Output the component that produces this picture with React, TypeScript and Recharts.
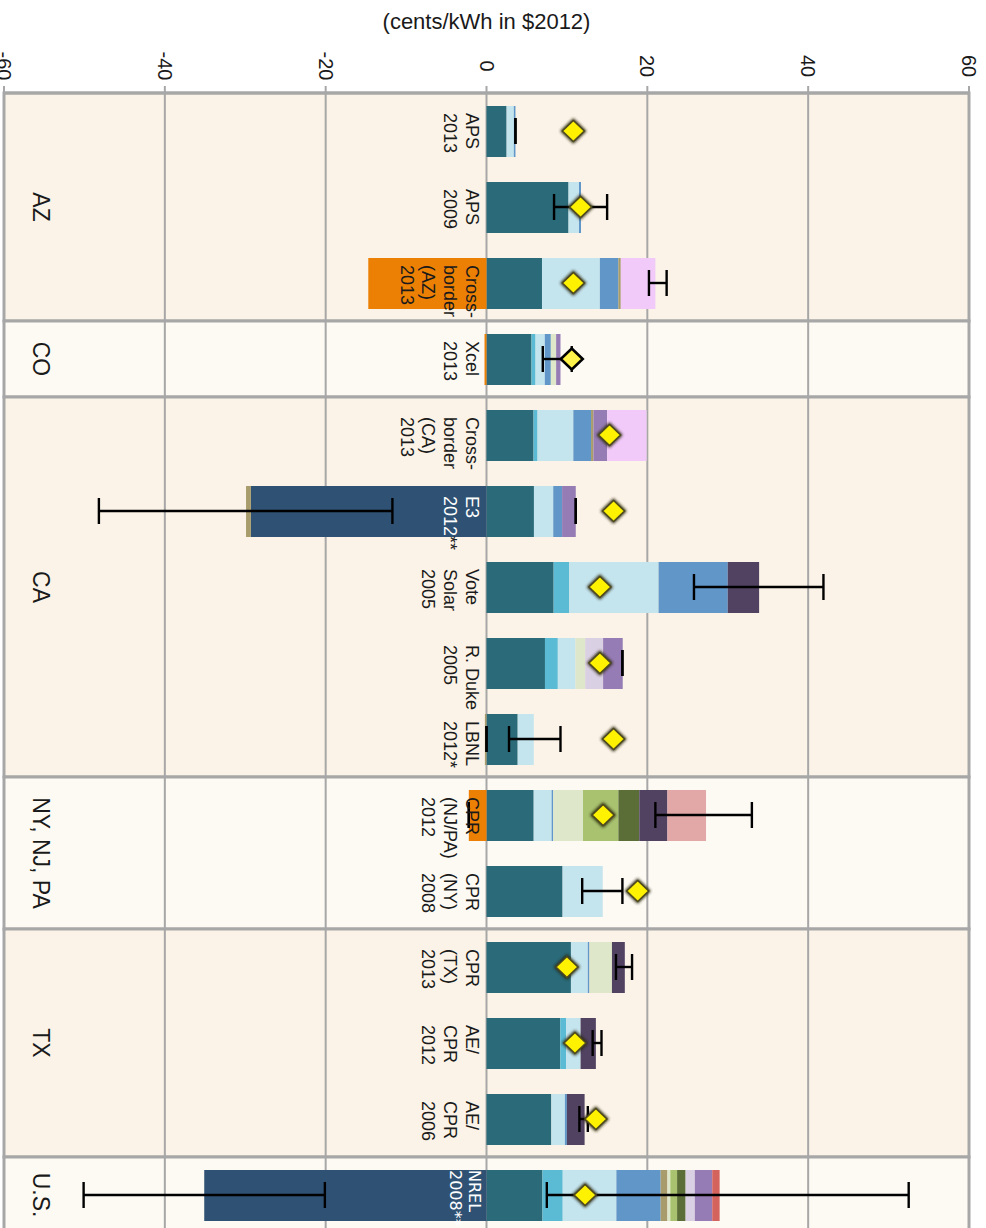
import React from 'react';
import {
  ComposedChart,
  Bar,
  XAxis,
  YAxis,
  Line,
  ErrorBar,
  ReferenceArea,
  ReferenceLine,
  LabelList,
} from 'recharts';

// ---------------- DATA ----------------
const categories = [
  'APS 2013', 'APS 2009', 'Cross-border (AZ) 2013', 'Xcel 2013', 'Cross-border (CA) 2013',
  'E3 2012**', 'Vote Solar 2005', 'R. Duke 2005', 'LBNL 2012*', 'CPR (NJ/PA) 2012',
  'CPR (NY) 2008', 'CPR (TX) 2013', 'AE/ CPR 2012', 'AE/ CPR 2006', 'NREL 2008**',
];
const categoryLines = [
  ['APS', '2013'], ['APS', '2009'], ['Cross-', 'border', '(AZ)', '2013'], ['Xcel', '2013'],
  ['Cross-', 'border', '(CA)', '2013'], ['E3', '2012**'], ['Vote', 'Solar', '2005'],
  ['R. Duke', '2005'], ['LBNL', '2012*'], ['CPR', '(NJ/PA)', '2012'], ['CPR', '(NY)', '2008'],
  ['CPR', '(TX)', '2013'], ['AE/', 'CPR', '2012'], ['AE/', 'CPR', '2006'], ['NREL', '2008**'],
];
const groups = ['AZ', 'CO', 'CA', 'NY, NJ, PA', 'TX', 'U.S.'];
const groupFirst = ['APS 2013', 'Xcel 2013', 'Cross-border (CA) 2013', 'CPR (NJ/PA) 2012', 'CPR (TX) 2013', 'NREL 2008**'];
const groupLast = ['Cross-border (AZ) 2013', 'Xcel 2013', 'LBNL 2012*', 'CPR (NY) 2008', 'AE/ CPR 2006', 'NREL 2008**'];
const xTicks = [-60, -40, -20, 0, 20, 40, 60];

// positive segments (cents/kWh), stacked in this order
const energy =      [2.5, 10.2, 6.9, 5.6, 5.85, 5.9, 8.35, 7.27, 3.88, 5.87, 9.46, 10.5, 9.17, 8.06, 6.96];
const losses =      [0, 0, 0, 0.5, 0.5, 0, 1.95, 1.6, 0, 0, 0, 0, 0.73, 0, 2.52];
const genCapacity = [0.9, 1.3, 7.2, 1.15, 4.45, 2.4, 11.1, 2.2, 2.0, 2.23, 5.0, 2.1, 1.8, 1.69, 6.67];
const tdCapacity =  [0.2, 0.25, 2.3, 0.75, 2.2, 1.1, 8.6, 0, 0, 0.2, 0, 0.2, 0, 0.25, 5.51];
const ancillary =   [0, 0, 0.3, 0, 0.3, 0, 0, 0, 0, 0, 0, 0, 0, 0, 0.84];
const fuelHedge =   [0, 0, 0, 0.66, 0, 0, 0, 1.2, 0, 3.7, 0, 2.8, 0, 0, 0.36];
const marketPrice = [0, 0, 0, 0, 0, 0, 0, 0, 0, 4.4, 0, 0, 0, 0, 0.84];
const security =    [0, 0, 0, 0, 0, 0, 0, 0, 0, 2.6, 0, 0, 0, 0, 1.06];
const carbon =      [0, 0, 0, 0, 0, 0, 3.9, 0, 0, 3.5, 0, 1.6, 1.9, 2.2, 0];
const criteria =    [0, 0, 0, 0, 0, 0, 0, 2.23, 0, 0, 0, 0, 0, 0, 1.14];
const envOther =    [0, 0, 0, 0.54, 1.7, 1.7, 0, 2.44, 0, 0, 0, 0, 0, 0, 2.17];
const social =      [0, 0, 0, 0, 0, 0, 0, 0, 0, 4.8, 0, 0, 0, 0, 0];
const crossBorder = [0, 0, 4.3, 0, 4.9, 0, 0, 0, 0, 0, 0, 0, 0, 0, 0];
const otherValue =  [0, 0, 0, 0, 0, 0, 0, 0, 0, 0, 0, 0, 0, 0, 0.92];
// negative segments
const integrationCost = [0, 0, -14.7, -0.25, 0, 0, 0, 0, 0, -2.2, 0, 0, 0, 0, 0];
const penetrationCost = [0, 0, 0, 0, 0, -29.3, 0, 0, 0, 0, 0, 0, 0, 0, -35.1];
const otherCost =       [0, 0, 0, 0, 0, -0.6, 0, 0, -0.2, 0, 0, 0, 0, 0, 0];

// yellow diamonds
const diamond = [10.8, 11.7, 10.8, 10.6, 15.3, 15.8, 14.1, 14.1, 15.8, 14.5, 18.8, 10.0, 11.0, 13.6, 12.26];
// error ranges [low, high]
const errA: (number[] | null)[] = [
  [3.6, 3.6], [8.4, 15.0], [20.2, 22.4], [7.0, 10.6], null, [11.1, 11.1], [25.8, 41.9], [16.9, 16.9],
  [2.8, 9.2], [21.0, 33.0], [11.9, 16.9], [16.1, 18.1], [13.2, 14.3], [11.55, 12.6], [7.5, 52.5],
];
const errB: (number[] | null)[] = [
  null, null, null, null, null, [-48.2, -11.7], null, null, [0, 0], [-2.2, -2.2], null, null, null, null, [-50.1, -20.1],
];

const series = [
  { key: 'energy', values: energy, color: '#2A6A79' },
  { key: 'losses', values: losses, color: '#5CBBD4' },
  { key: 'genCapacity', values: genCapacity, color: '#C4E4EE' },
  { key: 'tdCapacity', values: tdCapacity, color: '#6096C8' },
  { key: 'ancillary', values: ancillary, color: '#A89B6C' },
  { key: 'fuelHedge', values: fuelHedge, color: '#DFE7CA' },
  { key: 'marketPrice', values: marketPrice, color: '#A8C26F' },
  { key: 'security', values: security, color: '#5B6E37' },
  { key: 'carbon', values: carbon, color: '#524262' },
  { key: 'criteria', values: criteria, color: '#DAD0E3' },
  { key: 'envOther', values: envOther, color: '#967CB4' },
  { key: 'social', values: social, color: '#E2A8A7' },
  { key: 'crossBorder', values: crossBorder, color: '#F1CAFA' },
  { key: 'otherValue', values: otherValue, color: '#D4625D' },
  { key: 'integrationCost', values: integrationCost, color: '#EC8005' },
  { key: 'penetrationCost', values: penetrationCost, color: '#2F5274' },
  { key: 'otherCost', values: otherCost, color: '#A89B6C' },
];

const rows = categories.map((name, i) => {
  const r: any = { name, diamond: diamond[i] };
  series.forEach((s) => { r[s.key] = s.values[i]; });
  const a = errA[i];
  const b = errB[i];
  r.aLo = a ? a[0] : null;
  r.aErr = a ? [0, a[1] - a[0]] : null;
  r.bLo = b ? b[0] : null;
  r.bErr = b ? [0, b[1] - b[0]] : null;
  return r;
});

// ---------------- STYLE ----------------
const FONT = '"Liberation Sans", Arial, Helvetica, sans-serif';
const BAND_A = '#FBF3E7';
const BAND_B = '#FDFAF4';
const GRID = '#A7A7A7';

const AxisTick = (p: any) => (
  <text
    transform={`translate(${p.x},66) rotate(90)`}
    textAnchor="middle"
    dy="0.35em"
    fontFamily={FONT}
    fontSize={20}
    fill="#1a1a1a"
  >
    {p.payload.value}
  </text>
);

const CatLabel = (p: any) => {
  const idx = categories.indexOf(p.value);
  if (idx < 0 || p.x == null) return null;
  const lines = categoryLines[idx];
  const isE3 = p.value === 'E3 2012**';
  const isNrel = p.value === 'NREL 2008**';
  const x0 = p.x;
  const y0 = p.y + (isE3 ? 10 : isNrel ? 0 : 7);
  const fs = isNrel ? 16 : 18;
  const step = isNrel ? 19 : 21.6;
  const first = isNrel ? 18 : 21;
  return (
    <text
      transform={`translate(${x0},${y0}) rotate(90)`}
      fontFamily={isNrel ? '"DejaVu Sans", sans-serif' : FONT}
      fontSize={fs}
      fill={isE3 || isNrel ? '#ffffff' : '#1a1a1a'}
      textAnchor="start"
    >
      {lines.map((ln, i) => {
        if (isE3 && ln.endsWith('**')) {
          return (
            <tspan key={i} x={0} y={first + i * step}>
              {ln.slice(0, -2)}
              <tspan fill="#222">**</tspan>
            </tspan>
          );
        }
        return (
          <tspan key={i} x={0} y={first + i * step}>
            {ln}
          </tspan>
        );
      })}
    </text>
  );
};

const GroupLabel = (p: any) => {
  const vb = p.viewBox;
  if (!vb) return null;
  const cx = vb.x + 37;
  const cy = vb.y + vb.height / 2;
  return (
    <text
      transform={`translate(${cx},${cy}) rotate(90)`}
      textAnchor="middle"
      dy={8.5}
      fontFamily={FONT}
      fontSize={23}
      fill="#1a1a1a"
    >
      {p.text}
    </text>
  );
};

const Diamond = (p: any) => {
  const { cx, cy, payload } = p;
  if (cx == null || cy == null || payload == null || payload.diamond == null) return null;
  const w = 11;
  const h = 10.5;
  const pts = `${cx},${cy - h} ${cx + w},${cy} ${cx},${cy + h} ${cx - w},${cy}`;
  if (payload.name === 'Xcel 2013') {
    return (
      <g>
        <polygon points={pts} fill="#FFF24A" stroke="#000" strokeWidth={2.6} strokeLinejoin="miter" />
      </g>
    );
  }
  const e = 2.2;
  const pts2 = `${cx},${cy - h - e} ${cx + w + e},${cy} ${cx},${cy + h + e} ${cx - w - e},${cy}`;
  return (
    <g>
      <defs>
        <filter id="dglow" x="-60%" y="-60%" width="220%" height="220%">
          <feGaussianBlur stdDeviation="1.8" />
        </filter>
      </defs>
      <polygon points={pts2} fill="#26240c" opacity={0.95} filter="url(#dglow)" />
      <polygon points={pts} fill="#FFF200" stroke="#4f4b1c" strokeWidth={1.6} />
    </g>
  );
};

export default function App() {
  return (
    <div style={{ position: 'absolute', left: 0, top: 0, width: 986, height: 1240, background: '#ffffff' }}>
      <div
        style={{
          position: 'absolute',
          left: 0,
          top: 9,
          width: 973,
          textAlign: 'center',
          fontFamily: FONT,
          fontSize: 22,
          color: '#1a1a1a',
          lineHeight: '26px',
        }}
      >
        (cents/kWh in $2012)
      </div>
      <ComposedChart
        width={986}
        height={1240}
        data={rows}
        layout="vertical"
        stackOffset="sign"
        margin={{ top: 0, right: 17, bottom: 7, left: 4 }}
        barSize={51}
        style={{ position: 'absolute', left: 0, top: 0 }}
      >
        <XAxis
          type="number"
          orientation="top"
          domain={[-60, 60]}
          ticks={xTicks}
          allowDataOverflow
          height={93}
          axisLine={{ stroke: GRID, strokeWidth: 3 }}
          tickLine={{ stroke: GRID, strokeWidth: 2 }}
          tickSize={7}
          tick={(props: any) => <AxisTick {...props} />}
          interval={0}
        />
        <YAxis type="category" dataKey="name" hide />
        {groups.map((g, i) => (
          <ReferenceArea
            key={g}
            x1={-60}
            x2={60}
            y1={groupFirst[i]}
            y2={groupLast[i]}
            fill={i % 2 === 0 ? BAND_A : BAND_B}
            fillOpacity={1}
            stroke={GRID}
            strokeWidth={3}
            ifOverflow="visible"
            zIndex={10}
            label={<GroupLabel text={g} />}
          />
        ))}
        {[-40, -20, 0, 20, 40].map((v) => (
          <ReferenceLine key={v} x={v} stroke={GRID} strokeWidth={2} zIndex={20} />
        ))}
        {series.map((s, i) => (
          <Bar
            key={s.key}
            dataKey={s.key}
            stackId="s"
            fill={s.color}
            isAnimationActive={false}
            zIndex={300}
          >
            {i === 0 ? <LabelList dataKey="name" content={(p: any) => <CatLabel {...p} />} /> : null}
          </Bar>
        ))}
        <Line
          dataKey="aLo"
          stroke="none"
          dot={false}
          activeDot={false}
          isAnimationActive={false}
          legendType="none"
          zIndex={400}
        >
          <ErrorBar dataKey="aErr" direction="x" width={13} stroke="#000" strokeWidth={2.4} />
        </Line>
        <Line
          dataKey="bLo"
          stroke="none"
          dot={false}
          activeDot={false}
          isAnimationActive={false}
          legendType="none"
          zIndex={400}
        >
          <ErrorBar dataKey="bErr" direction="x" width={13} stroke="#000" strokeWidth={2.4} />
        </Line>
        <Line
          dataKey="diamond"
          stroke="none"
          dot={(props: any) => <Diamond key={`d-${props.index}`} {...props} />}
          activeDot={false}
          isAnimationActive={false}
          legendType="none"
          zIndex={500}
        />
      </ComposedChart>
    </div>
  );
}
